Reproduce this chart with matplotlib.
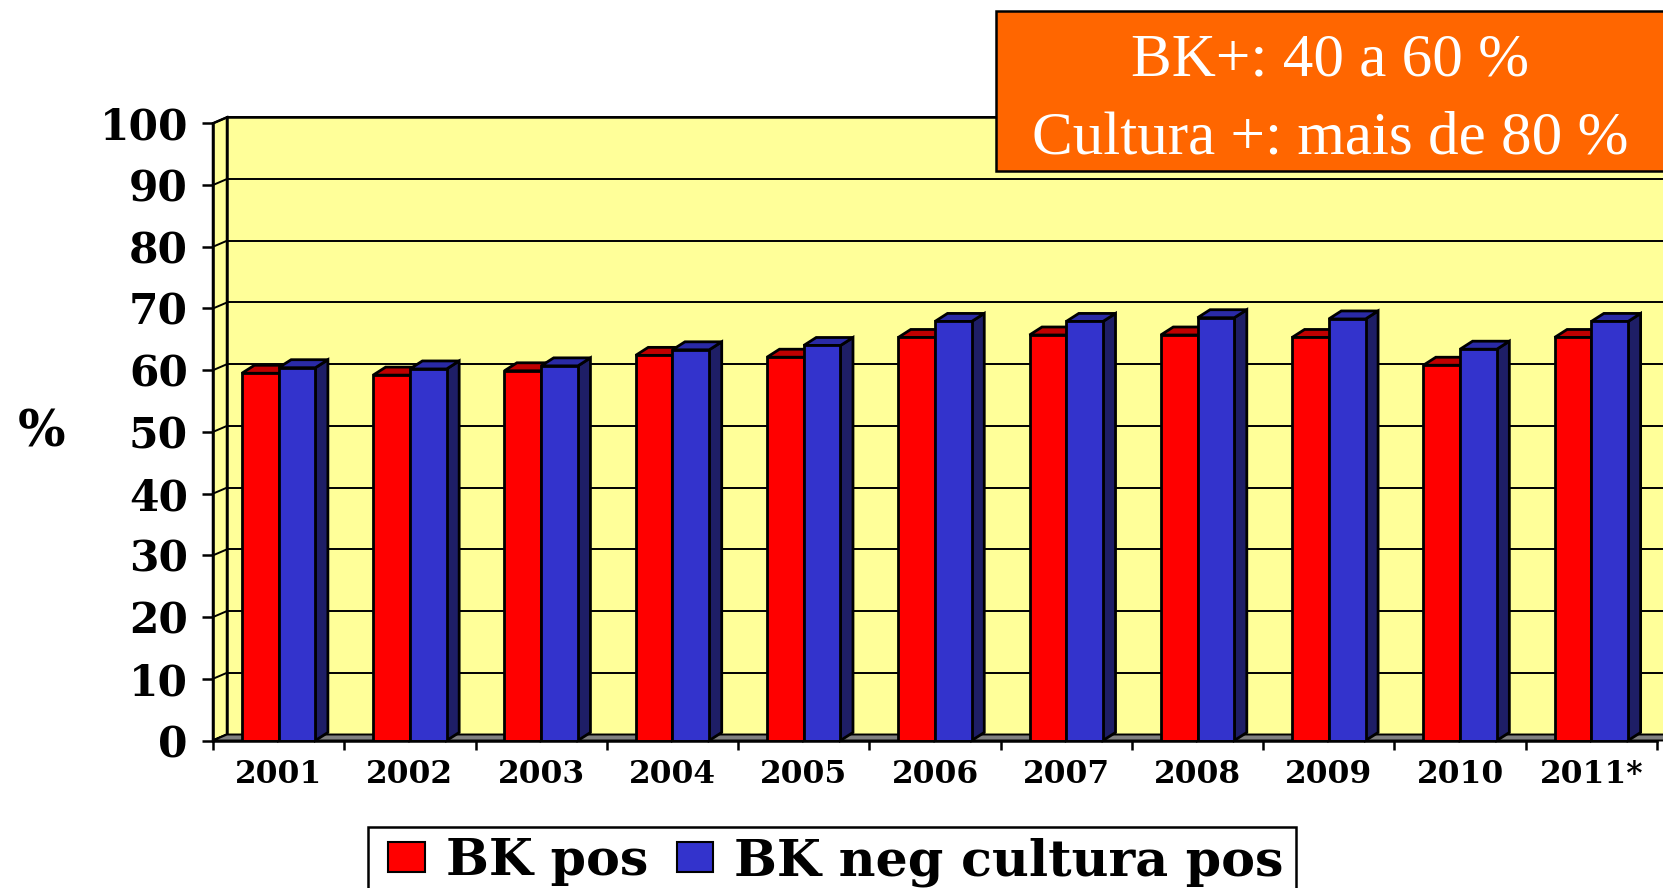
import numpy as np
import matplotlib
matplotlib.use('Agg')
import matplotlib.pyplot as plt
from matplotlib.patches import Rectangle, Polygon

years = ['2001', '2002', '2003', '2004', '2005', '2006',
         '2007', '2008', '2009', '2010', '2011*']
bk_pos = [59.5, 59.2, 59.9, 62.4, 62.1, 65.3, 65.7, 65.7, 65.3, 60.8, 65.3]
bk_neg_cult_pos = [60.4, 60.2, 60.7, 63.3, 64.0, 67.9, 67.9, 68.5, 68.3, 63.4, 67.9]
y_ticks = list(range(0, 101, 10))

W, H = 1663, 888
TICK_FONT = 'DejaVu Serif'
BOX_FONT = 'Liberation Serif'

fig = plt.figure(figsize=(W / 100, H / 100), dpi=100)
fig.patch.set_facecolor('white')

# front plane of the 3d box, in pixels
left, right, bottom, top = 213, 1657, 740.5, 123.3
ax = fig.add_axes([left / W, (H - bottom) / H, (right - left) / W, (bottom - top) / H])
ax.set_facecolor('none')
n = len(years)
ax.set_xlim(-0.5, n - 0.5)
ax.set_ylim(0, 100)

# depth offsets (wall and bars) in data units
px_x = (right - left) / n
px_y = (bottom - top) / 100
wall_dx, wall_dy = 14 / px_x, 6 / px_y
bar_dx, bar_dy = 12.5 / px_x, 8 / px_y

x0 = -0.5
x_end = n + 1.5
wall_col = '#FFFF99'

# side wall, back wall, floor
ax.add_patch(Polygon([(x0, 0), (x0 + wall_dx, wall_dy), (x0 + wall_dx, 100 + wall_dy), (x0, 100)],
                     closed=True, facecolor=wall_col, edgecolor='black', lw=1.8, zorder=0, clip_on=False))
ax.add_patch(Rectangle((x0 + wall_dx, wall_dy), x_end - x0, 100, facecolor=wall_col,
                       edgecolor='black', lw=1.8, zorder=0, clip_on=False))
for v in y_ticks[1:]:
    ax.plot([x0 + wall_dx, x_end], [v + wall_dy, v + wall_dy], color='black', lw=1.4,
            zorder=1, clip_on=False)
for v in y_ticks:
    ax.plot([x0, x0 + wall_dx], [v, v + wall_dy], color='black', lw=1.4, zorder=1, clip_on=False)
ax.add_patch(Polygon([(x0, 0), (x_end, 0), (x_end + wall_dx, wall_dy), (x0 + wall_dx, wall_dy)],
                     closed=True, facecolor='#808080', edgecolor='black', lw=1.4, zorder=2, clip_on=False))

# bars
x = np.arange(n)
w = 0.28
series = [
    (bk_pos, x - w, '#FF0000', '#C00000', '#800000', 'BK pos', 3),
    (bk_neg_cult_pos, x, '#3333CC', '#2A2AA6', '#1E1E66', 'BK neg cultura pos', 4),
]
handles = []
for vals, xs, front, topc, side, label, z in series:
    for xi, v in zip(xs, vals):
        ax.fill([xi + w, xi + w + bar_dx, xi + w + bar_dx, xi + w],
                [0, bar_dy, v + bar_dy, v], facecolor=side, edgecolor='black', lw=2,
                zorder=z, clip_on=False)
        ax.fill([xi, xi + bar_dx, xi + w + bar_dx, xi + w],
                [v, v + bar_dy, v + bar_dy, v], facecolor=topc, edgecolor='black', lw=2,
                zorder=z + 0.1, clip_on=False)
    b = ax.bar(xs, vals, width=w, align='edge', color=front, edgecolor='black', lw=2,
               label=label, zorder=z + 0.2)
    handles.append(b)

# axes
for s in ['top', 'right']:
    ax.spines[s].set_visible(False)
for s in ['left', 'bottom']:
    ax.spines[s].set_linewidth(1.8)
    ax.spines[s].set_zorder(5)
ax.set_yticks(y_ticks)
ax.set_yticklabels([str(v) for v in y_ticks], fontfamily=TICK_FONT, fontweight='bold', fontsize=30.5)
ax.tick_params(axis='y', direction='out', length=8, width=1.8, pad=10)
ax.set_xticks(x)
ax.set_xticklabels(years, fontfamily=TICK_FONT, fontweight='bold', fontsize=22.5)
ax.set_xticks(np.arange(n + 1) - 0.5, minor=True)
ax.tick_params(axis='x', which='major', length=0, pad=13)
ax.tick_params(axis='x', which='minor', direction='out', length=6.5, width=1.8)
ax.set_ylabel('%', rotation=0, fontfamily=TICK_FONT, fontweight='bold', fontsize=36,
              ha='center', va='center')
ax.yaxis.set_label_coords((42 - left) / (right - left), (bottom - 433) / (bottom - top))

# legend (frame drawn separately so the box runs off the bottom edge like the original)
leg = fig.legend(handles=handles, loc='upper left', bbox_to_anchor=(378 / W, 1 - 827 / H),
                 ncol=2, frameon=False, borderaxespad=0, borderpad=0.2,
                 handlelength=0.72, handleheight=0.52, handletextpad=0.42, columnspacing=0.56,
                 prop={'family': TICK_FONT, 'weight': 'bold', 'size': 36.5})
for h in leg.legend_handles:
    h.set_linewidth(1.5)
fig.add_artist(Rectangle((368 / W, -20 / H), (1296 - 368) / W, (20 + H - 827) / H,
                         transform=fig.transFigure, facecolor='white', edgecolor='black',
                         lw=1.8, zorder=0.5))

# orange note box
box = Rectangle((996 / W, 1 - 171 / H), (W + 10 - 996) / W, 160 / H, transform=fig.transFigure,
                facecolor='#FF6600', edgecolor='black', lw=1.8, zorder=10)
fig.add_artist(box)
fig.text(1330 / W, 1 - 76 / H, 'BK+: 40 a 60 %', color='white', fontfamily=BOX_FONT,
         fontsize=44, ha='center', va='baseline', zorder=11)
fig.text(1330 / W, 1 - 153 / H, 'Cultura +: mais de 80 %', color='white', fontfamily=BOX_FONT,
         fontsize=44, ha='center', va='baseline', zorder=11)

fig.savefig('out.png', dpi=100)
